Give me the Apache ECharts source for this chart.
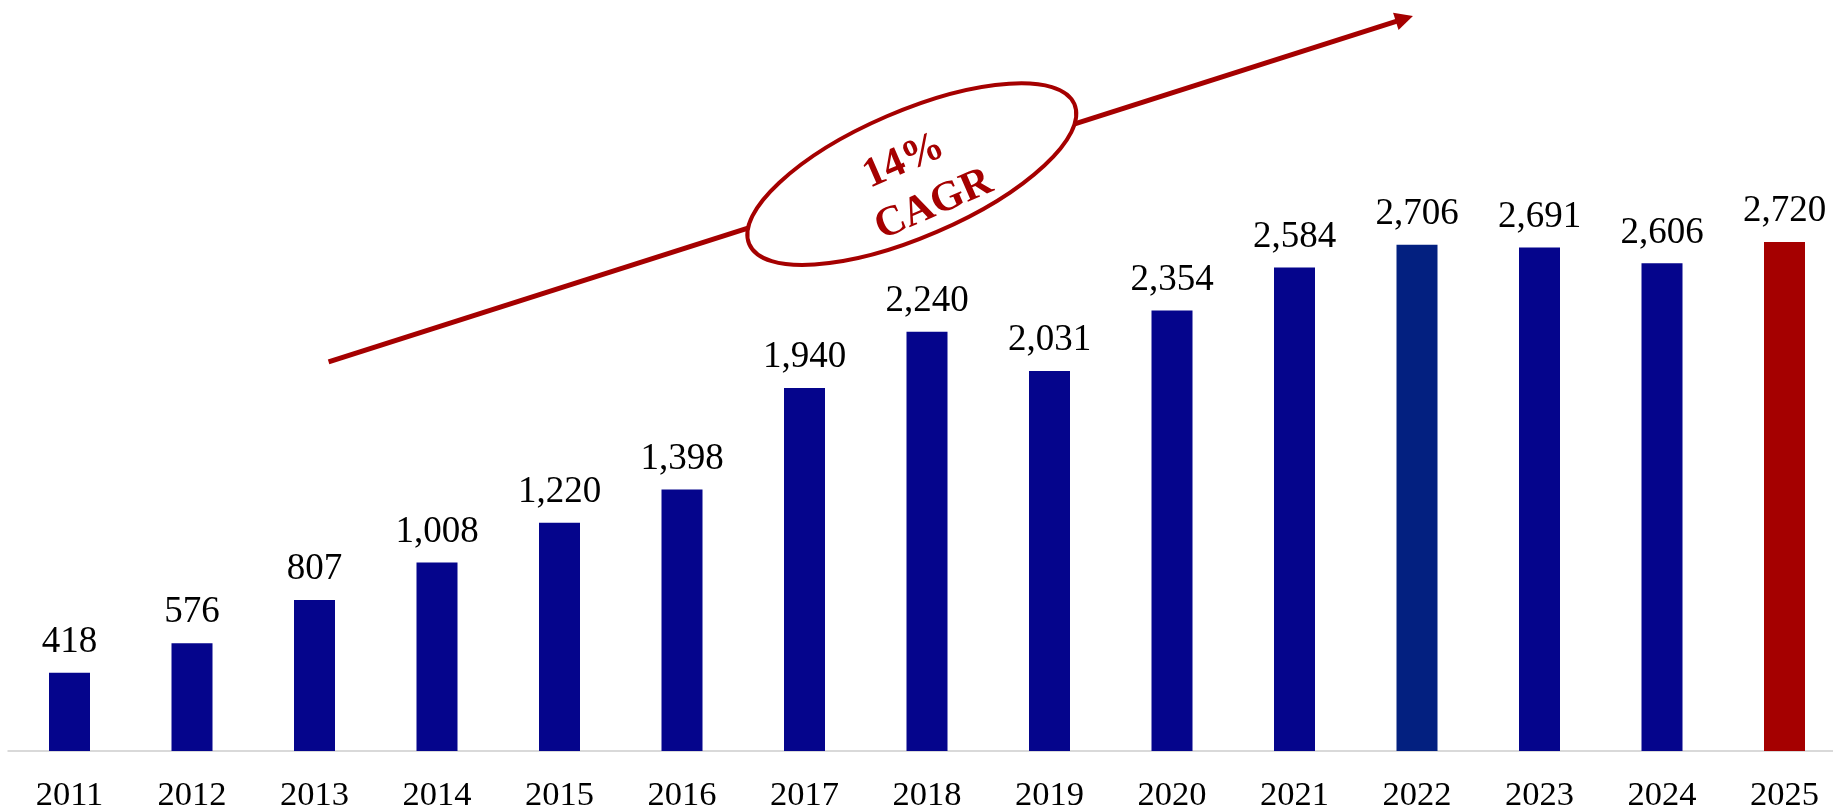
<!DOCTYPE html>
<html>
<head>
<meta charset="utf-8">
<title>Annual volume 2011–2025</title>
<script src="https://cdn.jsdelivr.net/npm/echarts@6/dist/echarts.min.js"></script>
<style>
  html, body { margin: 0; padding: 0; background: #ffffff; }
  #chart { width: 1833px; height: 811px; }
</style>
</head>
<body>
<div id="chart"></div>
<script>
// Yearly totals
const years = ['2011', '2012', '2013', '2014', '2015', '2016', '2017', '2018',
               '2019', '2020', '2021', '2022', '2023', '2024', '2025'];
const values = [418, 576, 807, 1008, 1220, 1398, 1940, 2240,
                2031, 2354, 2584, 2706, 2691, 2606, 2720];

// Growth badge text and trend arrow anchors (x = category position, y = value)
const cagrLines = ['14%', 'CAGR'];
const trendArrow = [[2.115, 2080], [10.967, 3928]];
const badgeAnchor = [6.876, 3083];

const SERIF = '"Liberation Serif", "Times New Roman", serif';
const NAVY = '#05058c';
const RED = '#a50000';
const highlight = { '2022': '#032080', '2025': RED };

const fmt = v => String(v).replace(/\B(?=(\d{3})+(?!\d))/g, ',');

const chart = echarts.init(document.getElementById('chart'), null, { renderer: 'canvas' });

const deg = Math.PI / 180;

function renderTrend(params, api) {
  const p0 = api.coord(trendArrow[0]);
  const p1 = api.coord(trendArrow[1]);
  const c = api.coord(badgeAnchor);
  const ang = Math.atan2(p1[1] - p0[1], p1[0] - p0[0]);
  const ux = Math.cos(ang), uy = Math.sin(ang);
  const headLen = 18, headHalf = 9;
  const bx = p1[0] - ux * headLen, by = p1[1] - uy * headLen;
  const textRot = 23.5 * deg;
  return {
    type: 'group',
    children: [
      {
        type: 'line',
        shape: { x1: p0[0], y1: p0[1], x2: bx + ux * 2, y2: by + uy * 2 },
        style: { stroke: RED, lineWidth: 5 }
      },
      {
        type: 'polygon',
        shape: { points: [[p1[0], p1[1]],
                          [bx - uy * headHalf, by + ux * headHalf],
                          [bx + uy * headHalf, by - ux * headHalf]] },
        style: { fill: RED }
      },
      {
        type: 'ellipse',
        x: c[0], y: c[1],
        rotation: 23.3 * deg,
        shape: { cx: 0, cy: 0, rx: 177, ry: 63 },
        style: { fill: '#ffffff', stroke: RED, lineWidth: 4 }
      },
      {
        type: 'group',
        x: c[0] + 7, y: c[1] + 9,
        rotation: textRot,
        children: [
          {
            type: 'text', x: -5, y: -26,
            style: { text: cagrLines[0], font: 'bold 42px ' + SERIF, fill: RED,
                     align: 'center', verticalAlign: 'middle' }
          },
          {
            type: 'text', x: 5, y: 26,
            style: { text: cagrLines[1], font: 'bold 42px ' + SERIF, fill: RED,
                     align: 'center', verticalAlign: 'middle' }
          }
        ]
      }
    ]
  };
}

chart.setOption({
  animation: false,
  backgroundColor: '#ffffff',
  grid: {
    left: 8.25, width: 1837.5, top: 2.5, height: 748.5,
    containLabel: false, outerBoundsMode: 'none'
  },
  xAxis: [
    {
      type: 'category',
      data: years,
      axisLine: { show: true, lineStyle: { color: '#d9d9d9', width: 2 } },
      axisTick: { show: false },
      axisLabel: { color: '#000000', fontFamily: SERIF, fontSize: 34.5, margin: 27 },
      splitLine: { show: false }
    },
    {
      type: 'value', min: -0.5, max: 14.5, show: false,
      splitLine: { show: false }
    }
  ],
  yAxis: {
    type: 'value', min: 0, max: 4000, show: false,
    splitLine: { show: false }
  },
  series: [
    {
      type: 'bar',
      xAxisIndex: 0,
      barWidth: 41,
      data: values.map((v, i) => ({
        value: v,
        itemStyle: { color: highlight[years[i]] || NAVY }
      })),
      label: {
        show: true,
        position: 'top',
        distance: 12,
        color: '#000000',
        fontFamily: SERIF,
        fontSize: 37,
        formatter: p => fmt(p.value)
      }
    },
    {
      type: 'custom',
      xAxisIndex: 1,
      silent: true,
      clip: false,
      z: 5,
      data: [[0, 0]],
      renderItem: renderTrend
    }
  ]
});
</script>
</body>
</html>
